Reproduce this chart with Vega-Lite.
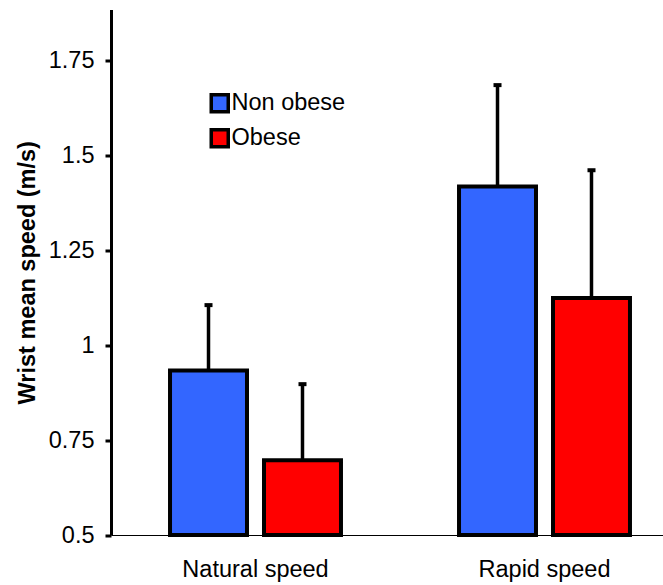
{
  "$schema": "https://vega.github.io/schema/vega-lite/v6.json",
  "autosize": {"type": "none"},
  "width": 552,
  "height": 525.5,
  "padding": {"left": 111, "top": 9.5, "right": 0, "bottom": 50},
  "config": {
    "view": {"stroke": null},
    "font": "Liberation Sans",
    "axis": {"labelFont": "Liberation Sans", "titleFont": "Liberation Sans", "labelColor": "black", "titleColor": "black"},
    "legend": {"labelFont": "Liberation Sans"}
  },
  "data": {
    "values": [
      {"speed": "Natural speed", "group": "Non obese", "value": 0.933, "upper": 1.105},
      {"speed": "Natural speed", "group": "Obese", "value": 0.697, "upper": 0.897},
      {"speed": "Rapid speed", "group": "Non obese", "value": 1.417, "upper": 1.684},
      {"speed": "Rapid speed", "group": "Obese", "value": 1.124, "upper": 1.46}
    ]
  },
  "encoding": {
    "x": {
      "field": "speed", "type": "nominal",
      "scale": {"range": [0, 578], "paddingInner": 0, "paddingOuter": 0},
      "axis": {"title": null, "labelAngle": 0, "ticks": false, "domainColor": "black", "domainWidth": 1, "labelFontSize": 23.5, "labelPadding": 22}
    },
    "xOffset": {
      "field": "group", "type": "nominal",
      "scale": {"paddingInner": 0.181, "paddingOuter": 0.628}
    }
  },
  "layer": [
    {
      "mark": {"type": "rule", "color": "black", "strokeWidth": 3.5},
      "encoding": {
        "y": {"field": "value", "type": "quantitative"},
        "y2": {"field": "upper"}
      }
    },
    {
      "mark": {"type": "tick", "color": "black", "size": 8, "thickness": 4, "orient": "horizontal", "opacity": 1},
      "encoding": {
        "y": {"field": "upper", "type": "quantitative"}
      }
    },
    {
      "mark": {"type": "bar", "stroke": "black", "strokeWidth": 4, "strokeJoin": "miter"},
      "encoding": {
        "y": {
          "field": "value", "type": "quantitative",
          "scale": {"domain": [0.5, 1.883], "nice": false, "zero": false},
          "axis": {
            "title": "Wrist mean speed (m/s)", "titleFontSize": 23.5, "titleFontWeight": "bold", "titlePadding": 9,
            "values": [0.5, 0.75, 1, 1.25, 1.5, 1.75], "format": ".3~g",
            "grid": false, "domainColor": "black", "domainWidth": 3, "tickColor": "black", "tickWidth": 3, "tickSize": 6,
            "labelFontSize": 23.5, "labelPadding": 11
          }
        },
        "y2": {"datum": 0.5},
        "fill": {
          "field": "group", "type": "nominal",
          "scale": {"domain": ["Non obese", "Obese"], "range": ["#3366FF", "#FF0000"]},
          "legend": {
            "title": null, "orient": "none", "legendX": 97, "legendY": 82,
            "symbolType": "square", "symbolSize": 289, "symbolStrokeColor": "black", "symbolStrokeWidth": 3.5,
            "labelFontSize": 23.5, "labelColor": "black", "rowPadding": 3, "labelOffset": 0
          }
        }
      }
    }
  ]
}
